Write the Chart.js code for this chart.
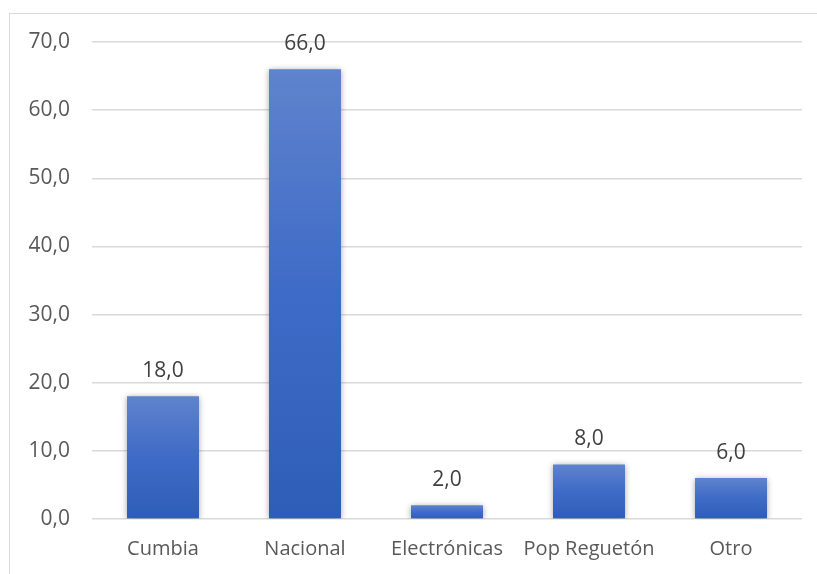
<!DOCTYPE html>
<html>
<head>
<meta charset="utf-8">
<script src="https://cdn.jsdelivr.net/npm/chart.js@4"></script>
<style>
  html, body { margin: 0; padding: 0; background: #fff; overflow: hidden; }
  #wrap { position: relative; width: 817px; height: 574px; }
  #frame { position: absolute; left: 9px; top: 13px; width: 900px; height: 700px;
           border: 1px solid #d9d9d9; box-sizing: border-box; }
  canvas { position: absolute; left: 0; top: 0; }
</style>
</head>
<body>
<div id="wrap">
  <div id="frame"></div>
  <canvas id="c" width="817" height="574"></canvas>
</div>
<script>
const categories = ['Cumbia', 'Nacional', 'Electrónicas', 'Pop Reguetón', 'Otro'];
const values = [18.0, 66.0, 2.0, 8.0, 6.0];
const yTicks = [0, 10, 20, 30, 40, 50, 60, 70];

const FONT = '"Open Sans", "Liberation Sans", sans-serif';
const fmt = v => v.toFixed(1).replace('.', ',');

// vertical gradient spanning each bar individually, lighter at the top
function barFill(ctx) {
  const chart = ctx.chart;
  const ys = chart.scales.y;
  if (!ys || ctx.raw === undefined || !isFinite(ys.getPixelForValue(0))) return '#3e6bc7';
  const top = ys.getPixelForValue(ctx.raw);
  const base = ys.getPixelForValue(0);
  const g = chart.ctx.createLinearGradient(0, top, 0, base);
  g.addColorStop(0, '#5f83cd');
  g.addColorStop(0.5, '#3e6bc7');
  g.addColorStop(1, '#2e5db7');
  return g;
}

const shadowPlugin = {
  id: 'barShadow',
  beforeDatasetDraw(chart) {
    const c = chart.ctx;
    c.save();
    c.shadowColor = 'rgba(0,0,0,0.35)';
    c.shadowBlur = 6;
    c.shadowOffsetX = 0;
    c.shadowOffsetY = 1;
  },
  afterDatasetDraw(chart) {
    chart.ctx.restore();
  }
};

const labelPlugin = {
  id: 'valueLabels',
  afterDatasetsDraw(chart) {
    const c = chart.ctx;
    const meta = chart.getDatasetMeta(0);
    c.save();
    c.font = '21px ' + FONT;
    c.fillStyle = '#404040';
    c.textAlign = 'center';
    c.textBaseline = 'middle';
    meta.data.forEach((bar, i) => {
      c.fillText(fmt(values[i]), bar.x, bar.y - 25);
    });
    c.restore();
  }
};

new Chart(document.getElementById('c'), {
  type: 'bar',
  data: {
    labels: categories,
    datasets: [{
      data: values,
      backgroundColor: barFill,
      borderWidth: 0,
      categoryPercentage: 1.0,
      barPercentage: 0.507
    }]
  },
  options: {
    responsive: false,
    animation: false,
    events: [],
    layout: { padding: { left: 10, right: 15, top: 42, bottom: 0 } },
    plugins: { legend: { display: false }, tooltip: { enabled: false } },
    scales: {
      x: {
        grid: { display: false, drawTicks: false },
        border: { display: false },
        ticks: { color: '#595959', font: { family: FONT, size: 20 }, padding: 18 },
        afterFit(s) { s.height = 574 - 519; }
      },
      y: {
        min: 0, max: 70,
        afterBuildTicks(s) { s.ticks = yTicks.map(v => ({ value: v })); },
        grid: { color: '#d9d9d9', lineWidth: 1.5, drawTicks: false },
        border: { display: false },
        ticks: {
          color: '#595959',
          font: { family: FONT, size: 21 },
          padding: 22,
          callback: v => fmt(v)
        },
        afterFit(s) { s.width = 92 - 10; }
      }
    }
  },
  plugins: [shadowPlugin, labelPlugin]
});
</script>
</body>
</html>
